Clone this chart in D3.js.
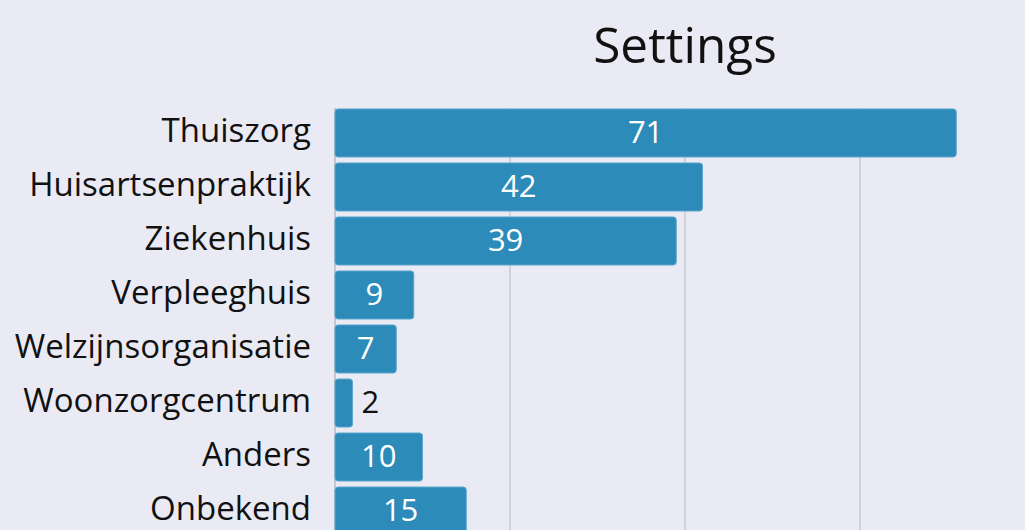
<!DOCTYPE html>
<html><head><meta charset="utf-8">
<script src="https://cdn.jsdelivr.net/npm/d3@7"></script>
<style>
html,body{margin:0;padding:0;background:#eaeaf4;overflow:hidden}
text{font-family:"Open Sans",sans-serif}
</style></head>
<body>
<svg id="chart" width="1025" height="530"></svg>
<script>
const categories = ["Thuiszorg","Huisartsenpraktijk","Ziekenhuis","Verpleeghuis","Welzijnsorganisatie","Woonzorgcentrum","Anders","Onbekend"];
const values = [71,42,39,9,7,2,10,15];
const tickValues = [20,40,60];
const title = "Settings";

const svg = d3.select("#chart");
const x = d3.scaleLinear().domain([0,80]).range([335,1035]);
const y = d3.scaleBand().domain(categories).range([106,538]).paddingInner(0.111).paddingOuter(0.055);

svg.append("rect").attr("width",1025).attr("height",530).attr("fill","#eaeaf4");

// grid
svg.append("g").selectAll("line").data(tickValues).join("line")
  .attr("x1",d=>x(d)).attr("x2",d=>x(d)).attr("y1",108).attr("y2",538)
  .attr("stroke","#c9c9d6").attr("stroke-width",1.5);
// axis line
svg.append("line").attr("x1",x(0)).attr("x2",x(0)).attr("y1",108).attr("y2",538)
  .attr("stroke","#b8b8c4").attr("stroke-width",1.5);

const data = categories.map((c,i)=>({c,v:values[i]}));
svg.append("g").selectAll("rect").data(data).join("rect")
  .attr("x",x(0)).attr("y",d=>y(d.c)).attr("width",d=>x(d.v)-x(0)).attr("height",y.bandwidth())
  .attr("rx",3).attr("fill","#2d8bb9").attr("stroke","#5aa6cc").attr("stroke-width",1);

const inside = d => (x(d.v)-x(0)) > 40;
// value labels
svg.append("g").selectAll("text").data(data).join("text")
  .attr("x",d=> inside(d) ? (x(0)+x(d.v))/2 : x(d.v)+9)
  .attr("y",d=>y(d.c)+y.bandwidth()/2)
  .attr("dy","0.33em")
  .attr("text-anchor",d=> inside(d) ? "middle":"start")
  .attr("fill",d=> inside(d) ? "#ffffff":"#111111")
  .attr("font-size",31)
  .text(d=>d.v);

// category labels
svg.append("g").selectAll("text").data(categories).join("text")
  .attr("x",311).attr("y",d=>y(d)+y.bandwidth()/2).attr("dy","0.26em")
  .attr("text-anchor","end").attr("fill","#111111").attr("font-size",33)
  .text(d=>d);

svg.append("text").attr("x",685).attr("y",63).attr("text-anchor","middle")
  .attr("font-size",49.5).attr("fill","#111111").text(title);
</script>
</body></html>
